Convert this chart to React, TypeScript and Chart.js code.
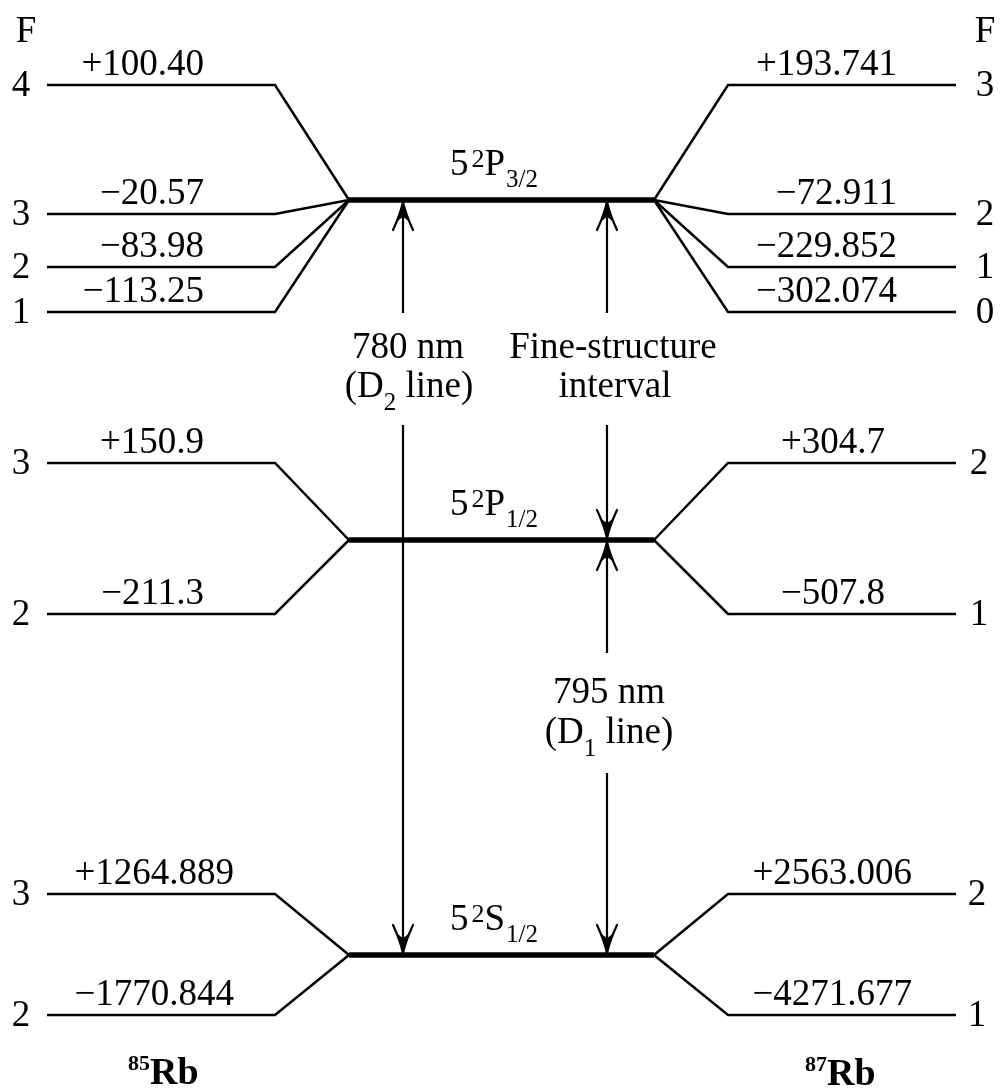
import React, { useEffect, useRef } from "react";
import { Chart, registerables } from "chart.js";

Chart.register(...registerables);

// ---------------- data ----------------
// Hyperfine quantum numbers F and shifts (MHz) per state, per isotope
const rb85P32F = [4, 3, 2, 1];
const rb85P32Shift = ["+100.40", "\u221220.57", "\u221283.98", "\u2212113.25"];
const rb87P32F = [3, 2, 1, 0];
const rb87P32Shift = ["+193.741", "\u221272.911", "\u2212229.852", "\u2212302.074"];

const rb85P12F = [3, 2];
const rb85P12Shift = ["+150.9", "\u2212211.3"];
const rb87P12F = [2, 1];
const rb87P12Shift = ["+304.7", "\u2212507.8"];

const rb85S12F = [3, 2];
const rb85S12Shift = ["+1264.889", "\u22121770.844"];
const rb87S12F = [2, 1];
const rb87S12Shift = ["+2563.006", "\u22124271.677"];

// term symbols n ^(2S+1) L _J
const termN = ["5", "5", "5"];
const termMult = ["2", "2", "2"];
const termL = ["P", "P", "S"];
const termJ = ["3/2", "1/2", "1/2"];

const isotopeMass = ["85", "87"];
const elementSymbol = "Rb";
const fHeader = "F";

const transitionWavelength = ["780 nm", "795 nm"];
const transitionLineSub = ["2", "1"];
const intervalText = ["Fine-structure", "interval"];

// ---------------- layout (positions / styles only) ----------------
const W = 1002;
const H = 1092;
const X = {
  leftStart: 47,
  leftKnee: 275,
  coreStart: 349,
  coreEnd: 654,
  rightKnee: 728,
  rightEnd: 956,
  d2: 403,
  fs: 607,
};
const coreY = [200, 540, 955];
const rowY = [
  [85, 214, 267, 312],
  [463, 614],
  [894, 1015],
];
const leftLabelRight = [204, 204, 234];
const rightLabelRight = [897, 885, 912];
const leftFX = 21;
const rightFX = [985, 979, 977];
const FONT = '"Liberation Serif", "Times New Roman", serif';
const BIG = 37;

const blocks = [
  { lF: rb85P32F, lS: rb85P32Shift, rF: rb87P32F, rS: rb87P32Shift },
  { lF: rb85P12F, lS: rb85P12Shift, rF: rb87P12F, rS: rb87P12Shift },
  { lF: rb85S12F, lS: rb85S12Shift, rF: rb87S12F, rS: rb87S12Shift },
];

// arrow shaft segments [x, y0, y1]
const shafts: [number, number, number][] = [
  [X.d2, coreY[0], 313],
  [X.d2, 425, coreY[2]],
  [X.fs, coreY[0], 313],
  [X.fs, 425, coreY[1]],
  [X.fs, coreY[1], 653],
  [X.fs, 773, coreY[2]],
];
// arrow heads [x, y, dir] dir=-1 points up, +1 points down
const heads: [number, number, number][] = [
  [X.d2, coreY[0] + 2, -1],
  [X.d2, coreY[2] - 2, 1],
  [X.fs, coreY[0] + 2, -1],
  [X.fs, coreY[1] - 2, 1],
  [X.fs, coreY[1] + 2, -1],
  [X.fs, coreY[2] - 2, 1],
];

type Part = { t: string; s: number; dy?: number; b?: boolean; gap?: number };

function fontOf(p: Part) {
  return `${p.b ? "bold " : ""}${p.s}px ${FONT}`;
}

function rich(
  ctx: CanvasRenderingContext2D,
  x: number,
  y: number,
  parts: Part[],
  align: "left" | "center" | "right"
) {
  let total = 0;
  const ws = parts.map((p) => {
    ctx.font = fontOf(p);
    const w = ctx.measureText(p.t).width + (p.gap || 0);
    total += w;
    return w;
  });
  let cx = align === "center" ? x - total / 2 : align === "right" ? x - total : x;
  ctx.textAlign = "left";
  parts.forEach((p, i) => {
    ctx.font = fontOf(p);
    ctx.fillText(p.t, cx + (p.gap || 0), y + (p.dy || 0));
    cx += ws[i];
  });
}

function drawHead(ctx: CanvasRenderingContext2D, x: number, y: number, dir: number) {
  const b = -dir; // body direction
  const L = 28;
  const hw = 10;
  // filled core near the tip
  ctx.beginPath();
  ctx.moveTo(x, y);
  ctx.quadraticCurveTo(x - 3, y + b * 12, x - 6.5, y + b * 20);
  ctx.quadraticCurveTo(x - 2, y + b * 16, x, y + b * 15);
  ctx.quadraticCurveTo(x + 2, y + b * 16, x + 6.5, y + b * 20);
  ctx.quadraticCurveTo(x + 3, y + b * 12, x, y);
  ctx.closePath();
  ctx.fill();
  // barbs
  ctx.lineWidth = 2.2;
  ctx.lineCap = "round";
  ctx.beginPath();
  ctx.moveTo(x, y);
  ctx.quadraticCurveTo(x - 3, y + b * 13, x - hw, y + b * L);
  ctx.moveTo(x, y);
  ctx.quadraticCurveTo(x + 3, y + b * 13, x + hw, y + b * L);
  ctx.stroke();
}

const diagramPlugin = {
  id: "diagramText",
  afterDatasetsDraw(chart: any) {
    const ctx: CanvasRenderingContext2D = chart.ctx;
    const xs = chart.scales.x;
    const ys = chart.scales.y;
    const px = (v: number) => xs.getPixelForValue(v);
    const py = (v: number) => ys.getPixelForValue(v);
    ctx.save();
    ctx.fillStyle = "#000";
    ctx.strokeStyle = "#000";
    ctx.textBaseline = "alphabetic";

    // arrow heads
    heads.forEach(([hx, hy, d]) => drawHead(ctx, px(hx), py(hy), d));

    // F headers
    ctx.font = `${BIG}px ${FONT}`;
    ctx.textAlign = "center";
    ctx.fillText(fHeader, px(26), py(42));
    ctx.fillText(fHeader, px(985), py(42));

    blocks.forEach((blk, bi) => {
      const ys0 = rowY[bi];
      ctx.font = `${BIG}px ${FONT}`;
      blk.lF.forEach((f, i) => {
        ctx.textAlign = "center";
        ctx.fillText(String(f), px(leftFX), py(ys0[i] + 11));
        ctx.textAlign = "right";
        ctx.fillText(blk.lS[i], px(leftLabelRight[bi]), py(ys0[i] - 10));
      });
      blk.rF.forEach((f, i) => {
        ctx.textAlign = "center";
        ctx.fillText(String(f), px(rightFX[bi]), py(ys0[i] + 11));
        ctx.textAlign = "right";
        ctx.fillText(blk.rS[i], px(rightLabelRight[bi]), py(ys0[i] - 10));
      });
      // term symbol
      rich(
        ctx,
        px(450),
        py(coreY[bi] - 25),
        [
          { t: termN[bi], s: BIG },
          { t: termMult[bi], s: 26, dy: -8, gap: 3 },
          { t: termL[bi], s: BIG },
          { t: termJ[bi], s: 25, dy: 12, gap: 1 },
        ],
        "left"
      );
    });

    // D2 transition label
    ctx.font = `${BIG}px ${FONT}`;
    ctx.textAlign = "center";
    ctx.fillText(transitionWavelength[0], px(408), py(358));
    rich(
      ctx,
      px(409),
      py(397),
      [
        { t: "(D", s: BIG },
        { t: transitionLineSub[0], s: 25, dy: 13 },
        { t: " line)", s: BIG },
      ],
      "center"
    );
    // fine structure label
    ctx.font = `${BIG}px ${FONT}`;
    ctx.textAlign = "center";
    ctx.fillText(intervalText[0], px(613), py(358));
    ctx.fillText(intervalText[1], px(615), py(397));
    // D1 label
    ctx.fillText(transitionWavelength[1], px(609), py(703));
    rich(
      ctx,
      px(609),
      py(743),
      [
        { t: "(D", s: BIG },
        { t: transitionLineSub[1], s: 25, dy: 13 },
        { t: " line)", s: BIG },
      ],
      "center"
    );

    // isotope labels
    rich(
      ctx,
      px(128),
      py(1084),
      [
        { t: isotopeMass[0], s: 22, dy: -14, b: true },
        { t: elementSymbol, s: 38, b: true },
      ],
      "left"
    );
    rich(
      ctx,
      px(805),
      py(1085),
      [
        { t: isotopeMass[1], s: 22, dy: -14, b: true },
        { t: elementSymbol, s: 38, b: true },
      ],
      "left"
    );
    ctx.restore();
  },
};

function buildDatasets() {
  const ds: any[] = [];
  const line = (pts: { x: number; y: number }[], w: number) => ({
    data: pts,
    showLine: true,
    borderColor: "#000",
    backgroundColor: "#000",
    borderWidth: w,
    pointRadius: 0,
    pointHoverRadius: 0,
    tension: 0,
    fill: false,
    borderJoinStyle: "miter",
  });
  blocks.forEach((blk, bi) => {
    const cy = coreY[bi];
    blk.lF.forEach((_, i) => {
      const ly = rowY[bi][i];
      ds.push(
        line(
          [
            { x: X.leftStart, y: ly },
            { x: X.leftKnee, y: ly },
            { x: X.coreStart, y: cy },
          ],
          2.5
        )
      );
    });
    blk.rF.forEach((_, i) => {
      const ly = rowY[bi][i];
      ds.push(
        line(
          [
            { x: X.coreEnd, y: cy },
            { x: X.rightKnee, y: ly },
            { x: X.rightEnd, y: ly },
          ],
          2.5
        )
      );
    });
    ds.push(
      line(
        [
          { x: X.coreStart, y: cy },
          { x: X.coreEnd, y: cy },
        ],
        5.5
      )
    );
  });
  shafts.forEach(([sx, y0, y1]) => {
    ds.push(
      line(
        [
          { x: sx, y: y0 },
          { x: sx, y: y1 },
        ],
        2.2
      )
    );
  });
  return ds;
}

export default function App() {
  const ref = useRef<HTMLCanvasElement | null>(null);
  useEffect(() => {
    if (!ref.current) return;
    const chart = new Chart(ref.current, {
      type: "scatter",
      data: { datasets: buildDatasets() },
      options: {
        animation: false,
        responsive: false,
        maintainAspectRatio: false,
        layout: { padding: 0 },
        events: [],
        plugins: {
          legend: { display: false },
          tooltip: { enabled: false },
        },
        scales: {
          x: { type: "linear", min: 0, max: W, display: false },
          y: { type: "linear", min: 0, max: H, reverse: true, display: false },
        },
      },
      plugins: [diagramPlugin],
    } as any);
    return () => chart.destroy();
  }, []);
  return (
    <div
      style={{
        position: "absolute",
        left: 0,
        top: 0,
        width: W,
        height: H,
        background: "#fff",
      }}
    >
      <canvas ref={ref} width={W} height={H} style={{ display: "block" }} />
    </div>
  );
}
